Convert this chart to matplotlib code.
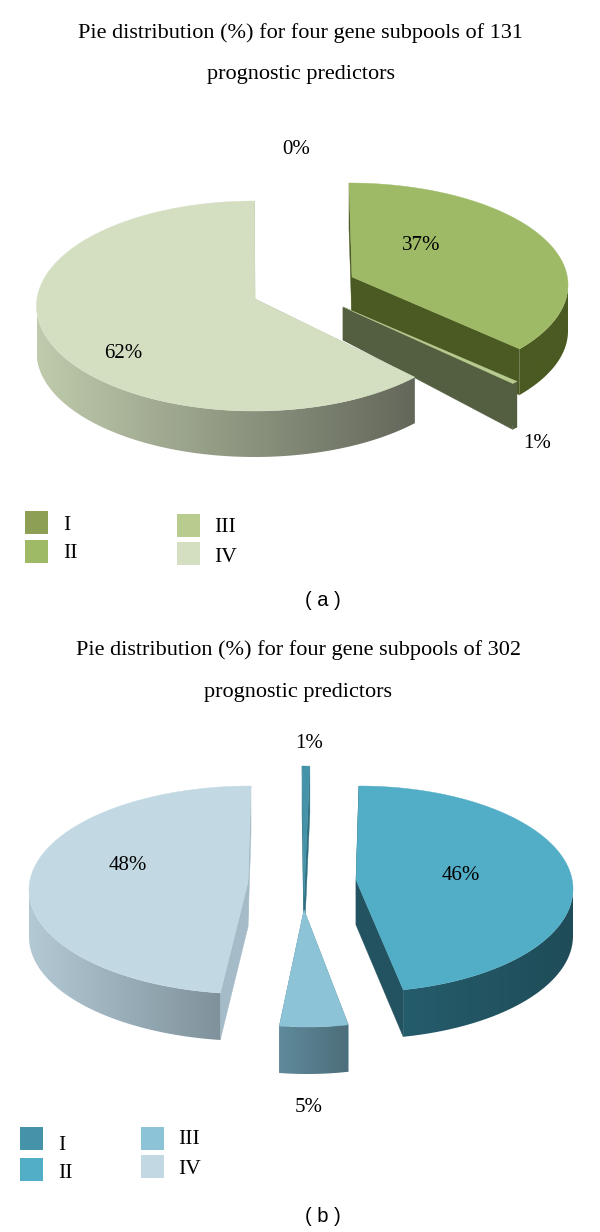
import numpy as np
import matplotlib
matplotlib.use("Agg")
import matplotlib.pyplot as plt
from matplotlib.colors import LinearSegmentedColormap
from matplotlib.patches import Polygon, Rectangle

plt.rcParams['font.family'] = ['Liberation Serif', 'DejaVu Serif']

# data
classes = ['I', 'II', 'III', 'IV']
values_a = [0, 37, 1, 62]
values_b = [1, 46, 5, 48]
title_a = ['Pie distribution (%) for four gene subpools of 131', 'prognostic predictors']
title_b = ['Pie distribution (%) for four gene subpools of 302', 'prognostic predictors']

# colours
top_a = ['#8c9f55', '#9fba66', '#b8cc90', '#d4dfc2']
side_a = [('#6a7a3a', '#6a7a3a'), ('#4a5a22', '#4a5a22'), ('#545f41', '#545f41'), ('#bfcbac', '#63675a')]
face_a = ['#6a7a3a', '#4a5a22', '#545f41', '#a9b596']
top_b = ['#4593a9', '#52adc6', '#8cc3d7', '#c2d9e4']
side_b = [('#2f6f80', '#2f6f80'), ('#255c6c', '#1f4c58'), ('#5f8a9b', '#4d6e7b'), ('#b3c9d4', '#7f929c')]
face_b = ['#2f6f80', '#235361', '#5f8a9b', '#a5bcc8']

# layout in pixels: ellipse centre and radii, slice tip, depth at the tip,
# and how much the view stretches the sweep of a slice
ell_a = [(349, 285, 219, 102), (349, 285, 219, 102), (343, 313, 231, 104), (254.5, 306, 218, 105)]
tip_a = [(352, 277), (352, 277), (343, 307), (255, 299)]
tipd_a = [46, 46, 33, 46]
sweep_a = [1, 1, 0.4, 1]
ell_b = [(302, 870, 140, 104), (359, 889, 214, 103), (307, 923, 200, 104), (251, 890, 222, 104)]
tip_b = [(304, 898), (356, 880), (304, 910), (248, 882)]
tipd_b = [46, 45, 47, 45]
sweep_b = [1, 1.022, 1, 1]


def view_angle(t, a1, stretch, warp):
    t = a1 - (a1 - t) * stretch
    return np.radians(t - warp * np.sin(np.radians(t)))


def rim(ell, a0, a1, stretch, warp):
    t = view_angle(np.linspace(a0, a1, 400), a1, stretch, warp)
    return t, np.column_stack([ell[0] + ell[2] * np.sin(t), ell[1] - ell[3] * np.cos(t)])


def draw_pie(ax, values, ells, tips, tipds, sweeps, tops, sides, faces, depth, warp):
    ends = np.cumsum(values) / np.sum(values) * 360
    starts = ends - np.array(values) / np.sum(values) * 360
    for v, a0, a1, ell, tip, td, st, top, side, face in zip(values, starts, ends, ells, tips, tipds, sweeps, tops, sides, faces):
        if v == 0:
            continue
        t, arc = rim(ell, a0, a1, st, warp)
        # cut faces
        for p in (arc[0], arc[-1]):
            quad = [tip, p, (p[0], p[1] + depth), (tip[0], tip[1] + td)]
            ax.add_patch(Polygon(quad, closed=True, fc=face, ec=face, lw=0.3, zorder=2))
        # outer wall, front half only
        front = (t >= np.pi / 2) & (t <= 3 * np.pi / 2)
        if front.sum() > 1:
            wall = arc[front]
            poly = np.vstack([wall, (wall + [0, depth])[::-1]])
            patch = Polygon(poly, closed=True, fc='none', ec='none', zorder=2)
            ax.add_patch(patch)
            cmap = LinearSegmentedColormap.from_list('w', list(side))
            grad = np.linspace(0, 1, 256).reshape(1, -1)
            im = ax.imshow(grad, cmap=cmap, aspect='auto', zorder=2,
                           extent=(poly[:, 0].min(), poly[:, 0].max(), poly[:, 1].max(), poly[:, 1].min()))
            im.set_clip_path(patch)
        ax.add_patch(Polygon(np.vstack([[tip], arc]), closed=True, fc=top, ec=top, lw=0.3, zorder=3))


fig = plt.figure(figsize=(6, 12.32), dpi=100)
ax = fig.add_axes([0, 0, 1, 1])

draw_pie(ax, values_a, ell_a, tip_a, tipd_a, sweep_a, top_a, side_a, face_a, 46, 6)
draw_pie(ax, values_b, ell_b, tip_b, tipd_b, sweep_b, top_b, side_b, face_b, 47, 6)

ax.set_xlim(0, 600)
ax.set_ylim(1232, 0)
ax.axis('off')

# titles
ax.text(301, 33, title_a[0], ha='center', va='center', fontsize=16)
ax.text(301, 75, title_a[1], ha='center', va='center', fontsize=16)
ax.text(298, 650, title_b[0], ha='center', va='center', fontsize=16)
ax.text(298, 692, title_b[1], ha='center', va='center', fontsize=16)

# percent labels
for v, (x, y) in zip(values_a, [(296, 149), (421, 246), (537, 444), (123, 354)]):
    ax.text(x, y, f'{v}%', ha='center', va='center', fontsize=15, zorder=5)
for v, (x, y) in zip(values_b, [(309, 743), (461, 875), (309, 1108), (128, 866)]):
    ax.text(x, y, f'{v}%', ha='center', va='center', fontsize=15, zorder=5)

# legends
for name, col, (x, y), (tx, ty) in zip(classes, top_a,
                                        [(25, 511), (25, 540), (177, 514), (177, 542)],
                                        [(63, 525), (63, 553), (214, 528), (214, 557)]):
    ax.add_patch(Rectangle((x, y), 23, 23, fc=col, ec='none'))
    ax.text(tx, ty, name, va='center', fontsize=15.5)
for name, col, (x, y), (tx, ty) in zip(classes, top_b,
                                        [(20, 1127), (20, 1158), (141, 1127), (141, 1155)],
                                        [(58, 1145), (58, 1173), (178, 1140), (178, 1169)]):
    ax.add_patch(Rectangle((x, y), 23, 23, fc=col, ec='none'))
    ax.text(tx, ty, name, va='center', fontsize=15.5)

# panel letters
ax.text(323, 600, '( a )', ha='center', va='center', fontsize=14.5, family=['Liberation Sans'])
ax.text(323, 1217, '( b )', ha='center', va='center', fontsize=14.5, family=['Liberation Sans'])

fig.savefig('out.png', dpi=100)
